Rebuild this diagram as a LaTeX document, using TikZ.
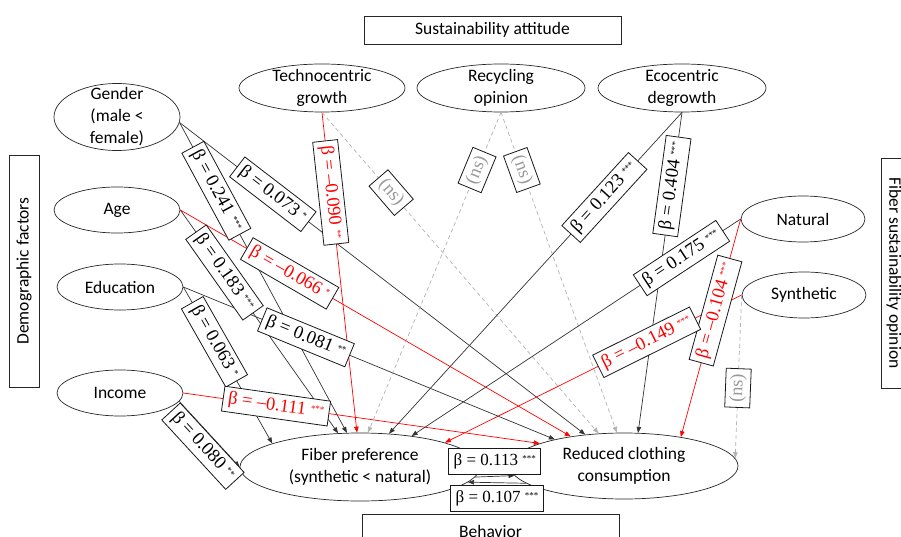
\documentclass[tikz,border=0pt]{standalone}
\usepackage{fontspec}
\setmainfont{Carlito}
\newfontfamily\coeffont{Liberation Serif}
\usetikzlibrary{arrows.meta, shapes.geometric}

\newcommand{\sig}[1]{\raisebox{0.5ex}{\fontsize{9}{9}\selectfont #1}}

\begin{document}
\begin{tikzpicture}[
  x=1pt, y=-1pt,
  font=\fontsize{17.5}{22}\selectfont,
  latent/.style={ellipse, draw=black!85, line width=0.7pt, inner sep=0pt, align=center,
    minimum width=126pt, minimum height=46pt},
  grpbox/.style={draw=black!85, line width=0.8pt, inner sep=0pt, align=center},
  coef/.style={draw=black!90, fill=white, line width=0.8pt, sloped, inner xsep=5pt, inner ysep=3pt,
    minimum height=25pt, font=\coeffont\fontsize{18.5}{18.5}\selectfont},
  coefh/.style={coef, sloped=false, minimum width=92pt, minimum height=26pt,
    font=\coeffont\fontsize{17}{17}\selectfont},
  neg/.style={coef, text=red},
  nsbox/.style={coef, text=black!40},
  pth/.style={draw=black!80, line width=0.7pt, -{Triangle[length=6pt, width=4.5pt]}},
  negpth/.style={pth, draw=red},
  nspth/.style={pth, draw=black!30, dash pattern=on 4pt off 3pt}
]
\useasboundingbox (0,0) rectangle (901,537);

% group boxes
\node[grpbox, minimum width=257pt, minimum height=28pt] (att) at (492.5,30) {Sustainability attitude};
\node[grpbox, minimum width=232pt, minimum height=30pt, rotate=90] (dem) at (24,271) {Demographic factors};
\node[grpbox, minimum width=230pt, minimum height=26pt, rotate=-90] (fso) at (894,273) {Fiber sustainability opinion};
\node[grpbox, minimum width=257pt, minimum height=34pt] (beh) at (490.5,531) {Behavior};

% demographic factors
\node[latent, minimum height=67pt, inner ysep=-10pt] (gen) at (117,117) {Gender\\(male <\\female)};
\node[latent] (age) at (117,210) {Age};
\node[latent] (edu) at (120,287) {Education};
\node[latent] (inc) at (120,393) {Income};

% sustainability attitude
\node[latent, minimum width=166pt, minimum height=48pt, inner ysep=-4pt] (tec) at (322,88) {Technocentric\\growth};
\node[latent, minimum width=168pt, minimum height=48pt, inner ysep=-4pt] (rec) at (501,88) {Recycling\\opinion};
\node[latent, minimum width=168pt, minimum height=48pt, inner ysep=-4pt] (eco) at (682,88) {Ecocentric\\degrowth};

% fiber sustainability opinion
\node[latent, minimum width=124pt] (nat) at (803,219) {Natural};
\node[latent, minimum width=124pt] (syn) at (804,295) {Synthetic};

% behavior
\node[latent, minimum width=240pt, minimum height=68pt] (fib) at (360,467) {Fiber preference\\(synthetic < natural)};
\node[latent, minimum width=228pt, minimum height=66pt] (red) at (624,466) {Reduced clothing\\consumption};

% --- paths ---
\draw[pth] (gen.-5) -- (fib.111);
\draw[pth] (gen.-5) -- (red.141);
\draw[pth] (age.east) -- (fib.123);
\draw[negpth] (age.east) -- (red.151);
\draw[pth] (edu.east) -- (fib.165);
\draw[pth] (edu.east) -- (red.159);
\draw[pth] (inc.-8) -- (fib.west);
\draw[negpth] (inc.east) -- (red.165);

\draw[negpth] (tec.south) -- (fib.95);
\draw[nspth] (tec.south) -- (red.128);
\draw[nspth] (rec.south) -- (fib.77);
\draw[nspth] (rec.south) -- (red.102);
\draw[pth] (eco.south) -- (fib.49);
\draw[pth] (eco.south) -- (red.67);

\draw[pth] (nat.west) -- (fib.31);
\draw[negpth] (nat.west) -- (red.27);
\draw[negpth] (syn.west) -- (fib.16);
\draw[nspth] (syn.west) -- (red.4);

\draw[pth] (fib.-5) -- node[coefh, above=2pt] (b1) {β = 0.113 \sig{***}} (red.185);
\draw[pth] (red.190) -- node[coefh, below=2pt] (b2) {β = 0.107 \sig{***}} (fib.-8);

% --- coefficients, on top of all paths ---
\path (gen.-5) -- node[coef, pos=.22] (c1) {β = 0.241 \sig{***}} (fib.111);
\path (gen.-5) -- node[coef, pos=.23] (c2) {β = 0.073 \sig{*}} (red.141);
\path (age.east) -- node[coef, pos=.28] (c3) {β = 0.183 \sig{***}} (fib.123);
\path (age.east) -- node[neg, pos=.28] (c4) {β = –0.066 \sig{*}} (red.151);
\path (edu.east) -- node[coef, pos=.35] (c5) {β = 0.063 \sig{*}} (fib.165);
\path (edu.east) -- node[coef, pos=.33] (c6) {β = 0.081 \sig{**}} (red.159);
\path (inc.-8) -- node[coef, pos=.55, anchor=north] (c7) {β = 0.080 \sig{**}} (fib.west);
\path (inc.east) -- node[neg, pos=.26] (c8) {β = –0.111 \sig{***}} (red.165);

\path (tec.south) -- node[neg, pos=.25] (c9) {β = –0.090 \sig{**}} (fib.95);
\path (tec.south) -- node[nsbox, pos=.25] (c10) {(ns)} (red.128);
\path (rec.south) -- node[nsbox, pos=.18] (c11) {(ns)} (fib.77);
\path (rec.south) -- node[nsbox, pos=.18] (c12) {(ns)} (red.102);
\path (eco.south) -- node[coef, pos=.265] (c13) {β = 0.123 \sig{***}} (fib.49);
\path (eco.south) -- node[coef, pos=.23] (c14) {β = 0.404 \sig{***}} (red.67);

\path (nat.west) -- node[coef, pos=.18] (c15) {β = 0.175 \sig{***}} (fib.31);
\path (nat.west) -- node[neg, pos=.42] (c16) {β = –0.104 \sig{***}} (red.27);
\path (syn.west) -- node[neg, pos=.32] (c17) {β = –0.149 \sig{***}} (fib.16);
\path (syn.west) -- node[nsbox, pos=.57] (c18) {(ns)} (red.4);

\end{tikzpicture}
\end{document}
